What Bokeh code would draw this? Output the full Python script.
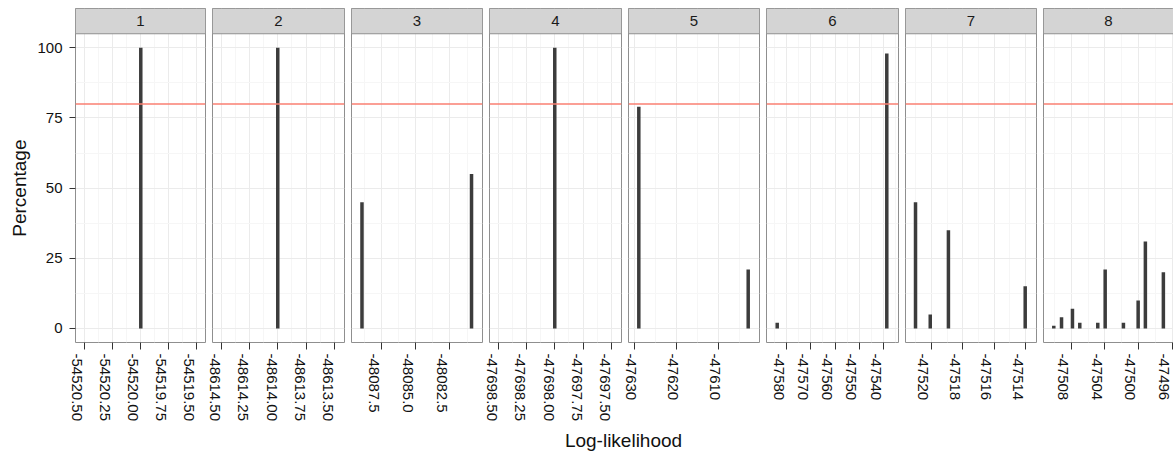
import math
from bokeh.plotting import figure
from bokeh.layouts import row, column
from bokeh.models import (Range1d, FixedTicker, Span, LinearAxis,
                          ColumnDataSource, CustomJSTickFormatter)
from bokeh.core.properties import value
from bokeh.embed import file_html
from bokeh.resources import INLINE

# ---------------- data ----------------
panel_names = ["1", "2", "3", "4", "5", "6", "7", "8"]

ll_1 = [-54520.00]
pct_1 = [100]
ll_2 = [-48614.00]
pct_2 = [100]
ll_3 = [-48088.94, -48080.92]
pct_3 = [45, 55]
ll_4 = [-47698.00]
pct_4 = [100]
ll_5 = [-47628.97, -47602.83]
pct_5 = [79, 21]
ll_6 = [-47583.82, -47538.77]
pct_6 = [2, 98]
ll_7 = [-47521.02, -47520.08, -47518.92, -47514.02]
pct_7 = [45, 5, 35, 15]
ll_8 = [-47510.07, -47509.15, -47507.85, -47506.98, -47504.84,
        -47503.96, -47501.79, -47500.04, -47499.18, -47497.04]
pct_8 = [1, 4, 7, 2, 2, 21, 2, 10, 31, 20]

ticks_1 = [-54520.50, -54520.25, -54520.00, -54519.75, -54519.50]
tick_labels_1 = ["-54520.50", "-54520.25", "-54520.00", "-54519.75", "-54519.50"]
ticks_2 = [-48614.50, -48614.25, -48614.00, -48613.75, -48613.50]
tick_labels_2 = ["-48614.50", "-48614.25", "-48614.00", "-48613.75", "-48613.50"]
ticks_3 = [-48087.5, -48085.0, -48082.5]
tick_labels_3 = ["-48087.5", "-48085.0", "-48082.5"]
ticks_4 = [-47698.50, -47698.25, -47698.00, -47697.75, -47697.50]
tick_labels_4 = ["-47698.50", "-47698.25", "-47698.00", "-47697.75", "-47697.50"]
ticks_5 = [-47630, -47620, -47610]
tick_labels_5 = ["-47630", "-47620", "-47610"]
ticks_6 = [-47580, -47570, -47560, -47550, -47540]
tick_labels_6 = ["-47580", "-47570", "-47560", "-47550", "-47540"]
ticks_7 = [-47520, -47518, -47516, -47514]
tick_labels_7 = ["-47520", "-47518", "-47516", "-47514"]
ticks_8 = [-47508, -47504, -47500, -47496]
tick_labels_8 = ["-47508", "-47504", "-47500", "-47496"]

xlim_1 = (-54520.585, -54519.420)
xlim_2 = (-48614.576, -48613.411)
xlim_3 = (-48089.707, -48080.117)
xlim_4 = (-47698.576, -47697.411)
xlim_5 = (-47631.434, -47600.131)
xlim_6 = (-47588.222, -47533.957)
xlim_7 = (-47521.659, -47513.299)
xlim_8 = (-47511.294, -47495.836)

y_ticks = [0, 25, 50, 75, 100]
y_minor = [12.5, 37.5, 62.5, 87.5]
threshold = 80
x_title = "Log-likelihood"
y_title = "Percentage"

lls = [ll_1, ll_2, ll_3, ll_4, ll_5, ll_6, ll_7, ll_8]
pcts = [pct_1, pct_2, pct_3, pct_4, pct_5, pct_6, pct_7, pct_8]
tickss = [ticks_1, ticks_2, ticks_3, ticks_4, ticks_5, ticks_6, ticks_7, ticks_8]
tlabs = [tick_labels_1, tick_labels_2, tick_labels_3, tick_labels_4,
         tick_labels_5, tick_labels_6, tick_labels_7, tick_labels_8]
xlims = [xlim_1, xlim_2, xlim_3, xlim_4, xlim_5, xlim_6, xlim_7, xlim_8]

# ---------------- layout / style ----------------
FONT = "Liberation Sans"
YL_W = 34
widths = [172, 139, 138, 139, 138, 139, 138, 136]
mb_left = [39, 6, 6, 6, 6, 6, 6, 6]
mb_right = [1, 1, 1, 1, 1, 1, 1, 0]
MB_TOP = 8
FRAME_H = 334
MB_BOTTOM = 82
TITLE_H = 32
Y_LO, Y_PANEL_HI, Y_TOP = -5, 105, 114
LABEL_SHIFT_PX = 8     # ggplot puts the rotated label left of its tick
LABEL_HALF_PX = 8.5    # keep rotated labels inside their own canvas

BAR = "#3C3C3C"
GRID_MAJ = "#EBEBEB"
GRID_MIN = "#F6F6F6"
BORDER = "#8F8F8F"
STRIP = "#D4D4D4"
TXT = "#111111"

y_range = Range1d(Y_LO, Y_TOP)


def minor_of(t):
    step = t[1] - t[0]
    return [t[0] - step / 2] + [(a + b) / 2 for a, b in zip(t[:-1], t[1:])] + [t[-1] + step / 2]


label_code = """
let best = 0, bd = Infinity;
for (let i = 0; i < tv.length; i++) {
  const d = Math.abs(tv[i] - tick);
  if (d < bd) { bd = d; best = i; }
}
return tl[best];
"""

# y-axis title column
yl = figure(width=YL_W, height=MB_TOP + FRAME_H + MB_BOTTOM,
            x_range=Range1d(0, YL_W), y_range=y_range,
            output_backend="svg", toolbar_location=None,
            x_axis_location=None, y_axis_location=None,
            min_border_left=0, min_border_right=0,
            min_border_top=MB_TOP, min_border_bottom=MB_BOTTOM)
yl.outline_line_color = None
yl.grid.visible = False
yl.background_fill_color = "white"
yl.border_fill_color = "white"
yl.text(x=[19], y=[(Y_LO + Y_PANEL_HI) / 2], text=[y_title], angle=math.pi / 2,
        text_align="center", text_baseline="middle",
        text_font=value(FONT), text_font_size=value("19px"), text_color=TXT)

figs = [yl]
for i in range(8):
    lo, hi = xlims[i]
    frame_w = widths[i] - mb_left[i] - mb_right[i]
    px_per_unit = frame_w / (hi - lo)
    p = figure(width=widths[i], height=MB_TOP + FRAME_H + MB_BOTTOM,
               x_range=Range1d(lo, hi), y_range=y_range,
               output_backend="svg", toolbar_location=None,
               y_axis_location="left" if i == 0 else None,
               min_border_left=mb_left[i], min_border_right=mb_right[i],
               min_border_top=MB_TOP, min_border_bottom=MB_BOTTOM)
    p.background_fill_color = "white"
    p.border_fill_color = "white"
    p.outline_line_color = BORDER
    p.outline_line_width = 1

    # x axis 1: tick marks only
    ax = p.xaxis[0]
    ax.ticker = FixedTicker(ticks=tickss[i], minor_ticks=minor_of(tickss[i]))
    ax.formatter = CustomJSTickFormatter(code="return ''")
    ax.major_label_text_font_size = "0px"
    ax.major_label_standoff = 0
    ax.axis_line_color = None
    ax.major_tick_out = 7
    ax.major_tick_in = 0
    ax.major_tick_line_color = "#333333"
    ax.minor_tick_line_color = None

    # x axis 2: rotated labels, shifted left of their tick (ggplot style)
    first_px = (tickss[i][0] - lo) * px_per_unit
    shift_px = min(LABEL_SHIFT_PX, first_px - 0.5,
                   mb_left[i] + first_px - LABEL_HALF_PX)
    d = shift_px / px_per_unit
    shifted = [t - d for t in tickss[i]]
    lab_ax = LinearAxis(ticker=FixedTicker(ticks=shifted),
                        formatter=CustomJSTickFormatter(args=dict(tv=shifted, tl=tlabs[i]),
                                                        code=label_code))
    lab_ax.axis_line_color = None
    lab_ax.major_tick_line_color = None
    lab_ax.minor_tick_line_color = None
    lab_ax.major_tick_out = 0
    lab_ax.major_tick_in = 0
    lab_ax.major_label_standoff = 4
    lab_ax.major_label_orientation = -math.pi / 2
    lab_ax.major_label_text_font = FONT
    lab_ax.major_label_text_font_size = "15px"
    lab_ax.major_label_text_color = TXT
    p.add_layout(lab_ax, "below")

    p.xgrid.grid_line_color = GRID_MAJ
    p.xgrid.minor_grid_line_color = GRID_MIN
    p.ygrid.ticker = FixedTicker(ticks=y_ticks, minor_ticks=y_minor)
    p.ygrid.grid_line_color = GRID_MAJ
    p.ygrid.minor_grid_line_color = GRID_MIN

    if i == 0:
        p.yaxis.ticker = FixedTicker(ticks=y_ticks, minor_ticks=y_minor)
        p.yaxis.axis_line_color = None
        p.yaxis.major_tick_out = 6
        p.yaxis.major_tick_in = 0
        p.yaxis.major_tick_line_color = "#333333"
        p.yaxis.minor_tick_line_color = None
        p.yaxis.major_label_standoff = 7
        p.yaxis.major_label_text_font = FONT
        p.yaxis.major_label_text_font_size = "15px"
        p.yaxis.major_label_text_color = TXT

    # bars
    src = ColumnDataSource(dict(x=lls[i], y=pcts[i]))
    p.segment(x0="x", y0=0, x1="x", y1="y", source=src, line_color=BAR,
              line_width=3.5, line_cap="butt")

    # strip
    p.quad(left=[lo], right=[hi], bottom=[Y_PANEL_HI], top=[Y_TOP],
           fill_color=STRIP, line_color=BORDER, line_width=1)
    p.text(x=[(lo + hi) / 2], y=[(Y_PANEL_HI + Y_TOP) / 2], text=[panel_names[i]],
           text_font=value(FONT), text_font_size=value("15px"),
           text_align="center", text_baseline="middle", text_color="#1A1A1A")

    # threshold line
    p.add_layout(Span(location=threshold, dimension="width",
                      line_color="#FA7F72", line_width=1.5))
    figs.append(p)

total_w = YL_W + sum(widths)
panel_left = YL_W + mb_left[0]
tf = figure(width=total_w, height=TITLE_H, x_range=Range1d(0, total_w),
            y_range=Range1d(0, TITLE_H),
            output_backend="svg", toolbar_location=None,
            x_axis_location=None, y_axis_location=None, min_border=0)
tf.outline_line_color = None
tf.grid.visible = False
tf.background_fill_color = "white"
tf.border_fill_color = "white"
tf.text(x=[(panel_left + total_w) / 2], y=[TITLE_H / 2], text=[x_title],
        text_align="center", text_baseline="middle",
        text_font=value(FONT), text_font_size=value("19px"), text_color=TXT)

layout = column(row(*figs), tf)
open("out.html", "w").write(file_html(layout, INLINE))
